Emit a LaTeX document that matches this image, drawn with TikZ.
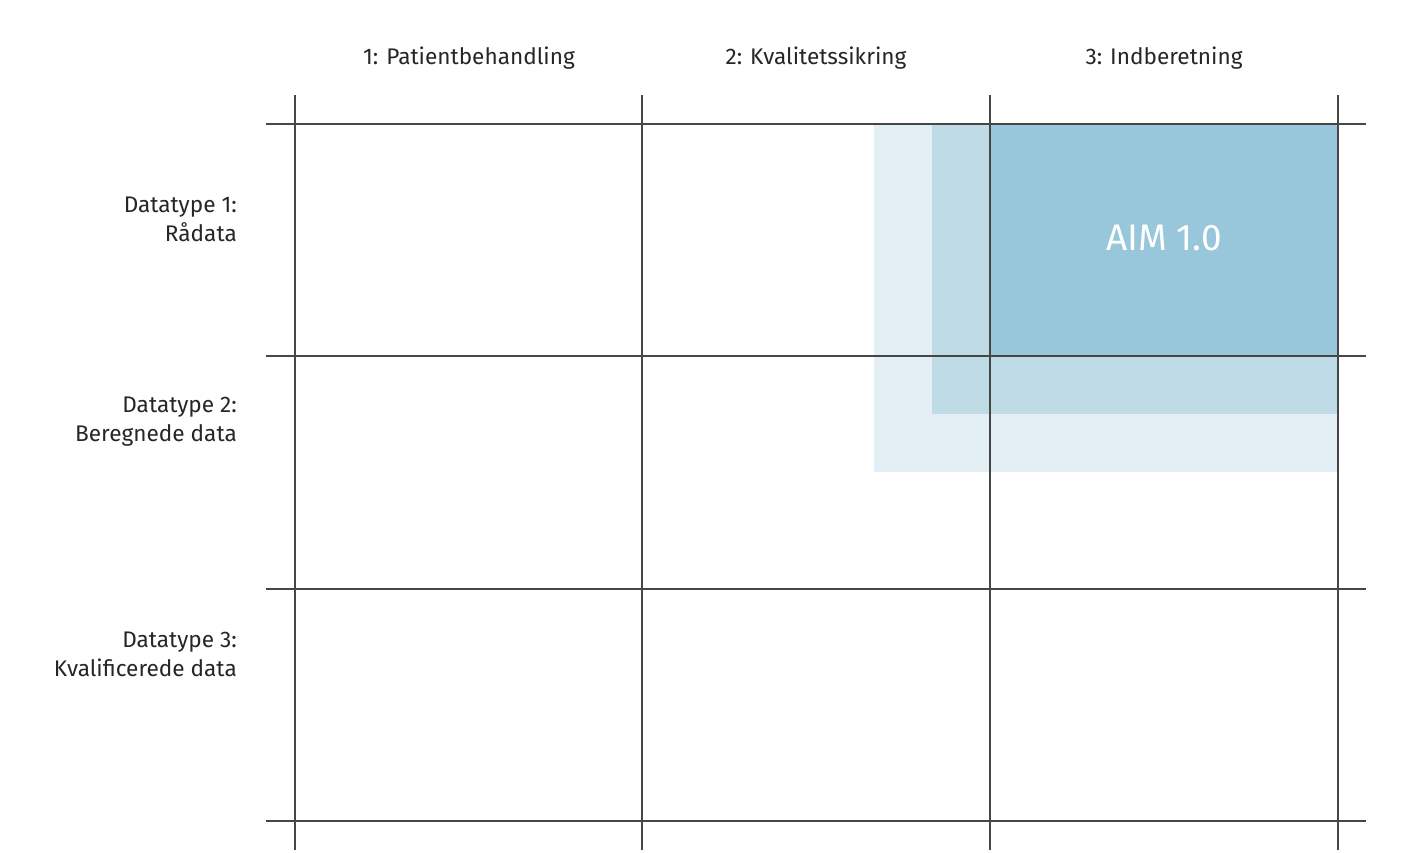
\documentclass[tikz,border=0pt]{standalone}
\usepackage{fontspec}
\setmainfont{Fira Sans}
\usepackage{tikz}
\usetikzlibrary{positioning}
\definecolor{aimlight}{RGB}{227,239,245}
\definecolor{aimmid}{RGB}{190,219,230}
\definecolor{aimdark}{RGB}{152,198,218}
\definecolor{gridline}{RGB}{70,70,70}
\tikzset{
  gridrule/.style={draw=gridline, line width=1.15},
  colhead/.style={font=\fontsize{22.6}{29}\selectfont, text=black!85, inner sep=0pt},
  rowhead/.style={font=\fontsize{22.6}{29}\selectfont, text=black!85, align=right, anchor=east, inner sep=0pt},
}
\begin{document}
\begin{tikzpicture}[x=1pt,y=1pt,yscale=-1,xscale=1]
\useasboundingbox[fill=white] (0,0) rectangle (1412,852);

%Shape: Rectangle [id:aim_light]
\fill [aimlight] (874,124) rectangle (1338,472) ;
%Shape: Rectangle [id:aim_mid]
\fill [aimmid] (932,124) rectangle (1338,414) ;
%Shape: Rectangle [id:aim_dark]
\fill [aimdark] (990,124) rectangle (1338,356) ;

%Straight Lines [id:cols]
\draw [gridrule] (295,95) -- (295,850) ;
\draw [gridrule] (642,95) -- (642,850) ;
\draw [gridrule] (990,95) -- (990,850) ;
\draw [gridrule] (1338,95) -- (1338,850) ;
%Straight Lines [id:rows]
\draw [gridrule] (266,124) -- (1366,124) ;
\draw [gridrule] (266,356) -- (1366,356) ;
\draw [gridrule] (266,589) -- (1366,589) ;
\draw [gridrule] (266,821) -- (1366,821) ;

% Text Node
\node (patient) [colhead] at (469,58) {1: Patientbehandling};
% Text Node
\node (kvalitet) [colhead] at (816,58) {2: Kvalitetssikring};
% Text Node
\node (indber) [colhead] at (1164,58) {3: Indberetning};

% Text Node
\node (raadata) [rowhead] at (237,219) {Datatype 1:\\Rådata};
% Text Node
\node (beregnet) [rowhead] at (237,422) {Datatype 2:\\Beregnede data};
% Text Node
\node (kvalif) [rowhead] at (237,654) {Datatype 3:\\Kvalificerede data};

% Text Node
\node (aim) [font=\fontsize{37}{44}\selectfont, text=white, inner sep=0pt] at (1164,238) {AIM 1.0};

\end{tikzpicture}
\end{document}
